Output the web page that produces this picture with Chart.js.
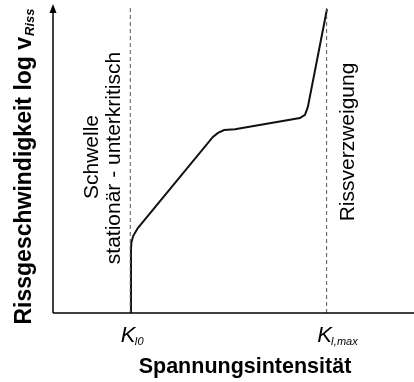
<!DOCTYPE html>
<html>
<head>
<meta charset="utf-8">
<script src="https://cdn.jsdelivr.net/npm/chart.js@4"></script>
<style>
  body { margin: 0; background: #fff; }
  #wrap { width: 414px; height: 382px; }
</style>
</head>
<body>
<div id="wrap"><canvas id="myChart" width="414" height="382"></canvas></div>
<script>
// Kurve: Spannungsintensität (x) gegen log v_Riss (y), willkürliche Einheiten 0..100
const kurveX = [21.6, 21.6, 21.7, 22.2, 23.5, 44.3, 45.7, 47.4, 50.4, 68.4, 69.8, 70.6, 75.9];
const kurveY = [0, 20.4, 22.7, 24.9, 27.5, 57.0, 58.3, 59.2, 59.5, 63.1, 64.1, 66.7, 98.4];

// Grenzwerte auf der x-Achse
const kWerte = [21.4, 75.8];
const kNamen = ['K', 'K'];
const kIndex = ['I0', 'I,max'];
const grenzeOben = 98.7;

// Beschriftungen
const titelX = 'Spannungsintensität';
const titelY = 'Rissgeschwindigkeit log v';
const titelYIndex = 'Riss';
const textSchwelle = ['Schwelle', 'stationär - unterkritisch'];
const textVerzweigung = 'Rissverzweigung';

const schrift = '"Liberation Sans", Arial, Helvetica, sans-serif';

const kurve = kurveX.map((x, i) => ({ x: x, y: kurveY[i] }));
const grenzLinien = kWerte.map(k => [{ x: k, y: 0 }, { x: k, y: grenzeOben }]);

// Achsen, Pfeil und Texte
const zeichnen = {
    id: 'zeichnen',
    afterDraw(chart) {
        const ctx = chart.ctx;
        const xs = chart.scales.x;
        const ys = chart.scales.y;
        const x0 = xs.getPixelForValue(0);
        const y0 = ys.getPixelForValue(0);
        const yTop = ys.getPixelForValue(100);

        ctx.save();
        ctx.strokeStyle = '#000';
        ctx.fillStyle = '#000';
        ctx.lineWidth = 1.5;
        // x-Achse
        ctx.beginPath();
        ctx.moveTo(x0, y0);
        ctx.lineTo(chart.width, y0);
        ctx.stroke();
        // y-Achse mit Pfeil
        ctx.beginPath();
        ctx.moveTo(x0, y0);
        ctx.lineTo(x0, yTop + 6);
        ctx.stroke();
        ctx.beginPath();
        ctx.moveTo(x0, yTop);
        ctx.lineTo(x0 - 3.5, yTop + 9);
        ctx.lineTo(x0 + 3.5, yTop + 9);
        ctx.closePath();
        ctx.fill();

        // K-Beschriftungen
        ctx.textBaseline = 'alphabetic';
        ctx.textAlign = 'left';
        kWerte.forEach((k, i) => {
            const px = xs.getPixelForValue(k) - 9.5;
            ctx.font = 'italic 22px ' + schrift;
            ctx.fillText(kNamen[i], px, 342);
            const w = ctx.measureText(kNamen[i]).width;
            ctx.font = 'italic 11px ' + schrift;
            ctx.fillText(kIndex[i], px + w - 1, 345);
        });

        // Titel x
        ctx.textAlign = 'center';
        ctx.textBaseline = 'middle';
        ctx.font = 'bold 21.5px ' + schrift;
        ctx.fillText(titelX, 245, 367);

        // Titel y (gedreht)
        ctx.save();
        ctx.translate(23, 167);
        ctx.rotate(-Math.PI / 2);
        ctx.textAlign = 'left';
        ctx.textBaseline = 'alphabetic';
        ctx.font = 'bold 23px ' + schrift;
        const wHaupt = ctx.measureText(titelY).width;
        ctx.font = 'italic bold 13px ' + schrift;
        const wIndex = ctx.measureText(titelYIndex).width;
        const start = -(wHaupt + wIndex) / 2;
        ctx.font = 'bold 23px ' + schrift;
        ctx.fillText(titelY, start, 8);
        ctx.font = 'italic bold 13px ' + schrift;
        ctx.fillText(titelYIndex, start + wHaupt + 1, 11);
        ctx.restore();

        // gedrehte Anmerkungen
        ctx.font = '21px ' + schrift;
        ctx.textAlign = 'center';
        ctx.textBaseline = 'middle';
        const anm = [
            [textSchwelle[0], 92, 157],
            [textSchwelle[1], 114, 158],
            [textVerzweigung, 348, 142]
        ];
        anm.forEach(a => {
            ctx.save();
            ctx.translate(a[1], a[2]);
            ctx.rotate(-Math.PI / 2);
            ctx.fillText(a[0], 0, 0);
            ctx.restore();
        });
        ctx.restore();
    }
};

const grenzDatensatz = grenzLinien.map(d => ({
    data: d,
    showLine: true,
    borderColor: '#555',
    borderWidth: 1,
    borderDash: [4, 3],
    pointRadius: 0,
    fill: false
}));

new Chart(document.getElementById('myChart').getContext('2d'), {
    type: 'scatter',
    data: {
        datasets: [
            ...grenzDatensatz,
            {
                data: kurve,
                showLine: true,
                borderColor: '#111',
                borderWidth: 2,
                pointRadius: 0,
                tension: 0,
                fill: false
            }
        ]
    },
    options: {
        responsive: false,
        animation: false,
        layout: { padding: { left: 53, right: 0, top: 4, bottom: 69 } },
        plugins: { legend: { display: false }, tooltip: { enabled: false } },
        scales: {
            x: { type: 'linear', min: 0, max: 100, display: false },
            y: { type: 'linear', min: 0, max: 100, display: false }
        }
    },
    plugins: [zeichnen]
});
</script>
</body>
</html>
